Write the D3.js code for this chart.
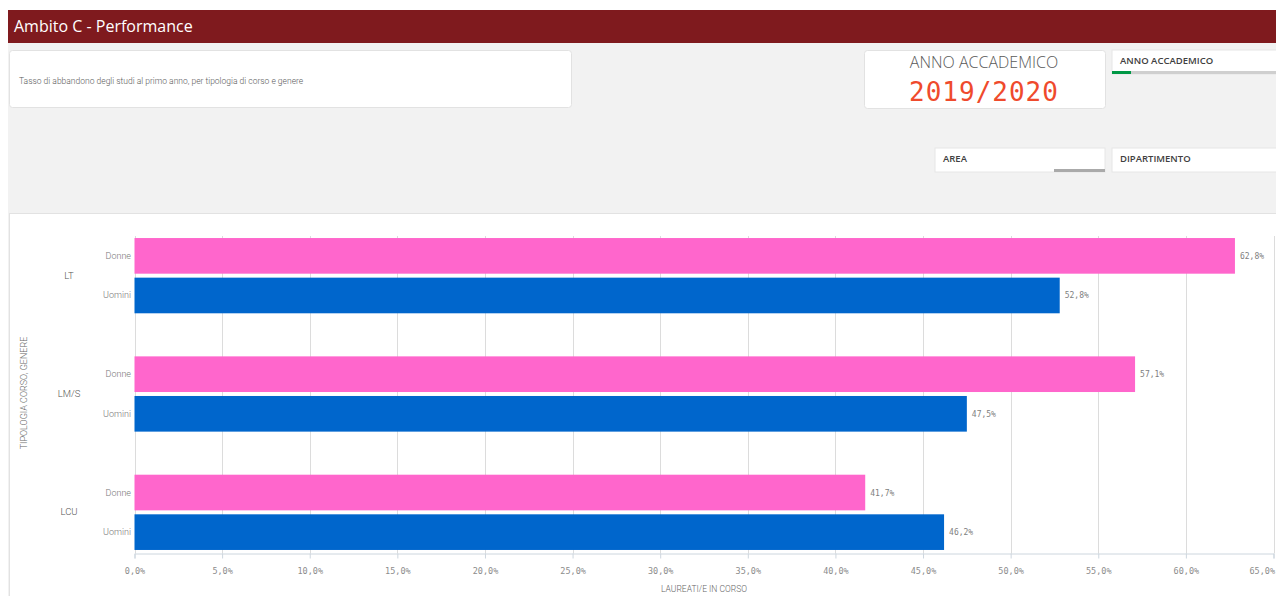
<!DOCTYPE html>
<html><head><meta charset="utf-8">
<script src="https://cdn.jsdelivr.net/npm/d3@7"></script>
<style>
html,body{margin:0;padding:0;background:#fff;}
svg{display:block;font-family:"Open Sans","Noto Sans",sans-serif;}
</style></head>
<body>
<svg id="c" width="1276" height="596"></svg>
<script>
const categories = ["LT", "LM/S", "LCU"];
const genders = ["Donne", "Uomini"];
const donneValues = [0.628, 0.571, 0.417];
const uominiValues = [0.528, 0.475, 0.462];
const xTicks = [0,0.05,0.10,0.15,0.20,0.25,0.30,0.35,0.40,0.45,0.50,0.55,0.60,0.65];
const colors = {Donne:"#ff66cc", Uomini:"#0066cc"};

const data = [];
categories.forEach((c,i)=>{
  data.push({cat:c, g:"Donne", v:donneValues[i]});
  data.push({cat:c, g:"Uomini", v:uominiValues[i]});
});

const svg = d3.select("#c");
const fmt = v => d3.format(".1f")(v*100).replace(".", ",") + "%";
const mono = "'DejaVu Sans Mono', monospace";
const sans = "Roboto, sans-serif";

// page background
svg.append("rect").attr("x",0).attr("y",0).attr("width",1276).attr("height",596).attr("fill","#ffffff");
svg.append("rect").attr("x",8).attr("y",43).attr("width",1268).attr("height",553).attr("fill","#f2f2f2");
// header
svg.append("rect").attr("x",8).attr("y",10).attr("width",1268).attr("height",33).attr("fill","#7f1a1e");
svg.append("text").attr("x",14).attr("y",32).attr("fill","#fff").attr("font-size",16).attr("font-weight",500)
  .text("Ambito C - Performance");

// description box
svg.append("rect").attr("x",9.5).attr("y",50.5).attr("width",562).attr("height",57).attr("rx",3)
  .attr("fill","#fff").attr("stroke","#e2e2e2");
svg.append("text").attr("x",19).attr("y",84).attr("fill","#595959").attr("font-size",8.5)
  .attr("font-family",sans).attr("font-weight",300)
  .text("Tasso di abbandono degli studi al primo anno, per tipologia di corso e genere");

// KPI box
svg.append("rect").attr("x",864.5).attr("y",50.5).attr("width",241).attr("height",58).attr("rx",3)
  .attr("fill","#fff").attr("stroke","#e2e2e2");
svg.append("text").attr("x",984).attr("y",68).attr("text-anchor","middle").attr("fill","#595959")
  .attr("font-size",16).attr("font-weight",300).text("ANNO ACCADEMICO");
svg.append("text").attr("x",984).attr("y",101).attr("text-anchor","middle").attr("fill","#ef4a2c")
  .attr("font-size",26).attr("font-family",mono).attr("letter-spacing",1).text("2019/2020");

// filter boxes
function filterBox(x,y,w,label,barX,barW,barColor,accent){
  svg.append("rect").attr("x",x).attr("y",y).attr("width",w).attr("height",24).attr("fill","#fff")
    .attr("stroke","#e6e6e6");
  svg.append("text").attr("x",x+8).attr("y",y+14).attr("fill","#404040").attr("font-size",9.5)
    .attr("font-weight",600).text(label);
  if(barW>0) svg.append("rect").attr("x",barX).attr("y",y+21).attr("width",barW).attr("height",3).attr("fill",barColor);
  if(accent) svg.append("rect").attr("x",x).attr("y",y+21).attr("width",19).attr("height",3).attr("fill",accent);
}
filterBox(1112,50,170,"ANNO ACCADEMICO",1112,170,"#cfcfcf","#009845");
filterBox(935,148,170,"AREA",1054,51,"#aaaaaa",null);
filterBox(1112,148,170,"DIPARTIMENTO",0,0,"#ccc",null);

// chart panel
svg.append("rect").attr("x",9.5).attr("y",213.5).attr("width",1270).attr("height",390)
  .attr("fill","#fff").attr("stroke","#e2e2e2");

// scales
const x = d3.scaleLinear().domain([0,0.65]).range([134.5,1273.5]);
const y0 = d3.scaleBand().domain(categories).range([216.5,571.5]).paddingInner(0.364).paddingOuter(0.182);
const y1 = d3.scaleBand().domain(genders).range([0,y0.bandwidth()]).paddingInner(0.1);

const axisY = 553.5;
// gridlines
svg.append("g").selectAll("line").data(xTicks).join("line")
  .attr("x1",d=>Math.round(x(d))+0.5).attr("x2",d=>Math.round(x(d))+0.5)
  .attr("y1",236).attr("y2",axisY).attr("stroke","#dcdcdc").attr("stroke-width",1);

// bars
const bars = svg.append("g");
bars.selectAll("rect").data(data).join("rect")
  .attr("x",x(0)).attr("y",d=>y0(d.cat)+y1(d.g))
  .attr("width",d=>x(d.v)-x(0)).attr("height",y1.bandwidth())
  .attr("fill",d=>colors[d.g]);
bars.selectAll("text").data(data).join("text")
  .attr("x",d=>x(d.v)+5).attr("y",d=>y0(d.cat)+y1(d.g)+y1.bandwidth()/2+3)
  .attr("font-size",8).attr("font-family",mono).attr("fill","#808080").text(d=>fmt(d.v));

// x axis
const xAxis = d3.axisBottom(x).tickValues(xTicks).tickFormat(fmt).tickSize(5).tickPadding(9);
const gx = svg.append("g").attr("transform",`translate(0,${axisY})`).call(xAxis);
gx.select(".domain").attr("stroke","#cdd6de");
gx.selectAll(".tick line").attr("stroke","#cdd6de");
gx.selectAll(".tick text").attr("font-family",mono).attr("font-size",8.5).attr("fill","#8c8c8c");
gx.selectAll(".tick text").filter(d=>d===0.65).attr("text-anchor","end").attr("dx",1);
svg.append("text").attr("x",(x.range()[0]+x.range()[1])/2).attr("y",592).attr("text-anchor","middle")
  .attr("font-size",8.5).attr("fill","#666").attr("font-family",sans).attr("font-weight",300).text("LAUREATI/E IN CORSO");

// y labels
const gy = svg.append("g").attr("font-family",sans).attr("font-weight",300);
gy.selectAll("text.g").data(data).join("text").attr("class","g")
  .attr("x",131).attr("y",d=>y0(d.cat)+y1(d.g)+y1.bandwidth()/2+3)
  .attr("text-anchor","end").attr("font-size",9).attr("fill","#777").text(d=>d.g);
gy.selectAll("text.c").data(categories).join("text").attr("class","c")
  .attr("x",69).attr("y",d=>y0(d)+y0.bandwidth()/2+3)
  .attr("text-anchor","middle").attr("font-size",9.5).attr("fill","#555").text(d=>d);
svg.append("text").attr("transform","translate(27,393) rotate(-90)").attr("text-anchor","middle")
  .attr("font-size",9).attr("fill","#666").attr("font-family",sans).attr("font-weight",300).text("TIPOLOGIA CORSO, GENERE");
</script>
</body></html>
